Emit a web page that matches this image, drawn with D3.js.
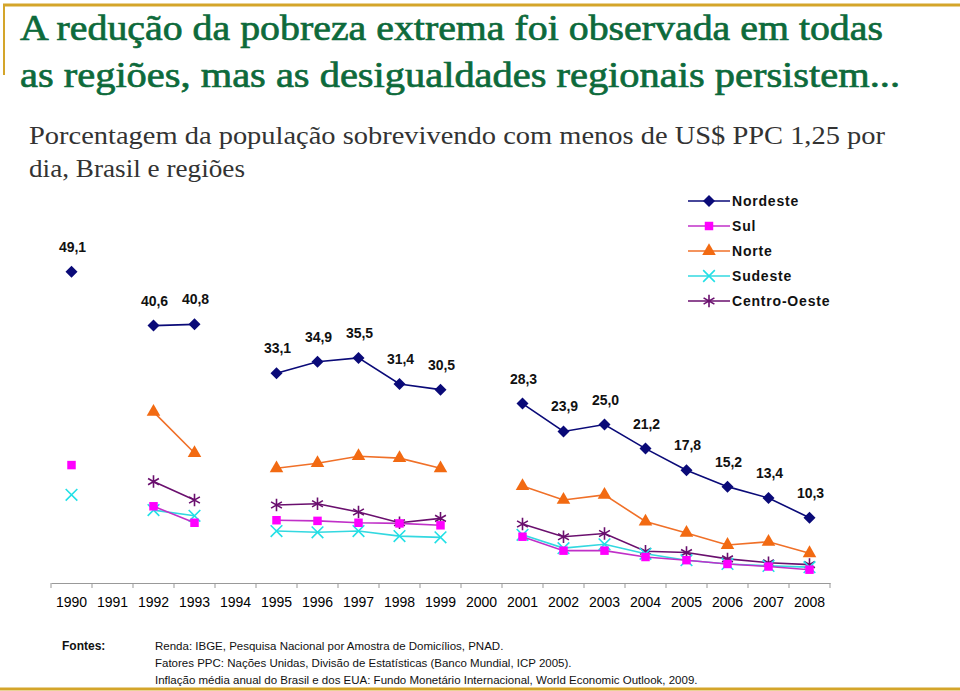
<!DOCTYPE html>
<html>
<head>
<meta charset="utf-8">
<script src="https://cdn.jsdelivr.net/npm/d3@7"></script>
<style>
  body { margin: 0; background: #fff; }
  svg { display: block; }
</style>
</head>
<body>
<svg id="svg0" width="960" height="691"></svg>
<script>

var width = 960;
var height = 691;

// anos do eixo x (1991, 1994 e 2000 sem dados)
var years = [1990, 1991, 1992, 1993, 1994, 1995, 1996, 1997, 1998, 1999,
             2000, 2001, 2002, 2003, 2004, 2005, 2006, 2007, 2008];

var nordeste = [49.1, null, 40.6, 40.8, null, 33.1, 34.9, 35.5, 31.4, 30.5,
                null, 28.3, 23.9, 25.0, 21.2, 17.8, 15.2, 13.4, 10.3];
var sul = [18.6, null, 12.1, 9.5, null, 9.9, 9.8, 9.5, 9.4, 9.1,
           null, 7.3, 5.1, 5.1, 4.1, 3.6, 3.0, 2.6, 2.1];
var norte = [null, null, 27.0, 20.5, null, 18.1, 18.9, 20.0, 19.7, 18.1,
             null, 15.3, 13.1, 13.9, 9.7, 7.9, 6.0, 6.5, 4.7];
var sudeste = [13.9, null, 11.5, 10.6, null, 8.2, 8.0, 8.2, 7.4, 7.2,
               null, 7.6, 5.5, 6.1, 4.6, 3.6, 3.0, 2.7, 2.5];
var centroOeste = [null, null, 16.0, 13.1, null, 12.3, 12.5, 11.2, 9.5, 10.2,
                   null, 9.3, 7.3, 7.8, 5.0, 4.8, 3.8, 3.2, 2.9];

var seriesNames = ['Nordeste', 'Sul', 'Norte', 'Sudeste', 'Centro-Oeste'];

var fontes = [
    'Renda: IBGE, Pesquisa Nacional por Amostra de Domicílios, PNAD.',
    'Fatores PPC: Nações Unidas, Divisão de Estatísticas (Banco Mundial, ICP 2005).',
    'Inflação média anual do Brasil e dos EUA: Fundo Monetário Internacional, World Economic Outlook, 2009.'
];

var series = [
    {name: 'Nordeste', values: nordeste, line: '#0a0a78', fill: '#0a0a78', symbol: 'diamond'},
    {name: 'Sul', values: sul, line: '#c030c8', fill: '#ff00ff', symbol: 'square'},
    {name: 'Norte', values: norte, line: '#f07028', fill: '#f26a12', symbol: 'triangle'},
    {name: 'Sudeste', values: sudeste, line: '#33d8e0', fill: '#22e0e6', symbol: 'x'},
    {name: 'Centro-Oeste', values: centroOeste, line: '#6a0f6e', fill: '#6a0f6e', symbol: 'star'}
];

var svg0 = d3.select('#svg0');

// moldura dourada
var gold = '#d4a52a';
svg0.append('line').attr('x1', 3).attr('x2', 960).attr('y1', 5).attr('y2', 5)
    .attr('stroke', gold).attr('stroke-width', 3);
svg0.append('line').attr('x1', 4).attr('x2', 4).attr('y1', 4).attr('y2', 75)
    .attr('stroke', gold).attr('stroke-width', 2);
svg0.append('line').attr('x1', 0).attr('x2', 960).attr('y1', 689).attr('y2', 689)
    .attr('stroke', gold).attr('stroke-width', 3);

// titulo
var titleLines = ['A redução da pobreza extrema foi observada em todas',
                  'as regiões, mas as desigualdades regionais persistem...'];
var titleLen = [863, 880];
svg0.selectAll('text.title')
    .data(titleLines)
    .enter()
    .append('text')
    .attr('class', 'title')
    .attr('x', 20)
    .attr('y', function(d, i){ return 40 + i * 47; })
    .attr('textLength', function(d, i){ return titleLen[i]; })
    .attr('lengthAdjust', 'spacingAndGlyphs')
    .attr('font-family', '"Liberation Serif", "DejaVu Serif", serif')
    .attr('font-size', 36)
    .attr('fill', '#0d6a3b')
    .attr('stroke', '#0d6a3b')
    .attr('stroke-width', 0.7)
    .text(function(d){ return d; });

var subLines = ['Porcentagem da população sobrevivendo com menos de US$ PPC 1,25 por',
                'dia, Brasil e regiões'];
var subLen = [856, 216];
svg0.selectAll('text.sub')
    .data(subLines)
    .enter()
    .append('text')
    .attr('class', 'sub')
    .attr('x', 29)
    .attr('y', function(d, i){ return 144 + i * 33; })
    .attr('textLength', function(d, i){ return subLen[i]; })
    .attr('lengthAdjust', 'spacingAndGlyphs')
    .attr('font-family', '"Liberation Serif", "DejaVu Serif", serif')
    .attr('font-size', 26)
    .attr('fill', '#333')
    .text(function(d){ return d; });

// escalas
var x = d3.scaleBand()
    .domain(years)
    .range([51, 830]);

var y = d3.scaleLinear()
    .domain([0, 50])
    .range([583, 266]);

function cx(i){ return x(years[i]) + x.bandwidth() / 2; }

// eixo x
var xAxis = d3.axisBottom(x).tickSize(0).tickPadding(14);
var gx = svg0.append('g')
    .attr('transform', 'translate(0,583)')
    .call(xAxis);
gx.select('.domain').attr('stroke', '#999');
gx.selectAll('text')
    .attr('font-family', 'Arial, "Liberation Sans", sans-serif')
    .attr('font-size', 14)
    .attr('fill', '#000');
gx.selectAll('line.band')
    .data(d3.range(years.length + 1))
    .enter()
    .append('line')
    .attr('class', 'band')
    .attr('x1', function(d){ return 51 + d * x.step(); })
    .attr('x2', function(d){ return 51 + d * x.step(); })
    .attr('y1', 0)
    .attr('y2', 5)
    .attr('stroke', '#999');

// linhas
var line = d3.line()
    .defined(function(d){ return d != null; })
    .x(function(d, i){ return cx(i); })
    .y(function(d){ return y(d); });

// losango quadrado (o symbolDiamond do d3 e alongado)
var squareDiamond = {
    draw: function(context, size){
        var r = Math.sqrt(size / 2);
        context.moveTo(0, -r);
        context.lineTo(r, 0);
        context.lineTo(0, r);
        context.lineTo(-r, 0);
        context.closePath();
    }
};

var symbolMap = {
    diamond: d3.symbol().type(squareDiamond).size(72),
    square: d3.symbol().type(d3.symbolSquare).size(72),
    triangle: d3.symbol().type(d3.symbolTriangle).size(80),
    x: d3.symbol().type(d3.symbolTimes).size(90),
    star: d3.symbol().type(d3.symbolAsterisk).size(110)
};

// desenha na ordem inversa para o Nordeste ficar por cima
series.slice().reverse().forEach(function(s){
    var g = svg0.append('g');
    g.append('path')
        .attr('d', line(s.values))
        .attr('fill', 'none')
        .attr('stroke', s.line)
        .attr('stroke-width', 1.6);

    var pts = s.values.map(function(v, i){ return {v: v, i: i}; })
        .filter(function(d){ return d.v != null; });

    g.selectAll('path.mk')
        .data(pts)
        .enter()
        .append('path')
        .attr('class', 'mk')
        .attr('d', symbolMap[s.symbol])
        .attr('transform', function(d){ return 'translate(' + cx(d.i) + ',' + y(d.v) + ')'; })
        .attr('fill', (s.symbol == 'x' || s.symbol == 'star') ? 'none' : s.fill)
        .attr('stroke', s.fill)
        .attr('stroke-width', (s.symbol == 'x' || s.symbol == 'star') ? 1.6 : 0);
});

// rotulos do Nordeste
var labelPts = nordeste.map(function(v, i){ return {v: v, i: i}; })
    .filter(function(d){ return d.v != null; });

svg0.selectAll('text.lbl')
    .data(labelPts)
    .enter()
    .append('text')
    .attr('class', 'lbl')
    .attr('x', function(d){ return cx(d.i) + 1; })
    .attr('y', function(d){ return y(d.v) - 20; })
    .attr('text-anchor', 'middle')
    .attr('font-family', 'Arial, "Liberation Sans", sans-serif')
    .attr('font-weight', 'bold')
    .attr('font-size', 14)
    .attr('fill', '#111')
    .text(function(d){ return d.v.toFixed(1).replace('.', ','); });

// legenda
var legend = svg0.append('g');
series.forEach(function(s, i){
    var ly = 201 + i * 25;
    legend.append('line')
        .attr('x1', 688).attr('x2', 730)
        .attr('y1', ly).attr('y2', ly)
        .attr('stroke', s.line)
        .attr('stroke-width', 1.6);
    legend.append('path')
        .attr('d', symbolMap[s.symbol])
        .attr('transform', 'translate(709,' + ly + ')')
        .attr('fill', (s.symbol == 'x' || s.symbol == 'star') ? 'none' : s.fill)
        .attr('stroke', s.fill)
        .attr('stroke-width', (s.symbol == 'x' || s.symbol == 'star') ? 1.6 : 0);
    legend.append('text')
        .attr('x', 732)
        .attr('y', ly + 5)
        .attr('font-family', 'Arial, "Liberation Sans", sans-serif')
        .attr('font-weight', 'bold')
        .attr('font-size', 14)
        .attr('letter-spacing', 0.8)
        .attr('fill', '#111')
        .text(seriesNames[i]);
});

// fontes
svg0.append('text')
    .attr('x', 62)
    .attr('y', 650)
    .attr('font-family', 'Arial, "Liberation Sans", sans-serif')
    .attr('font-weight', 'bold')
    .attr('font-size', 12)
    .attr('fill', '#111')
    .text('Fontes:');

svg0.selectAll('text.fonte')
    .data(fontes)
    .enter()
    .append('text')
    .attr('class', 'fonte')
    .attr('x', 155)
    .attr('y', function(d, i){ return 650 + i * 17; })
    .attr('font-family', 'Arial, "Liberation Sans", sans-serif')
    .attr('font-size', 11.5)
    .attr('fill', '#111')
    .text(function(d){ return d; });

</script>
</body>
</html>
